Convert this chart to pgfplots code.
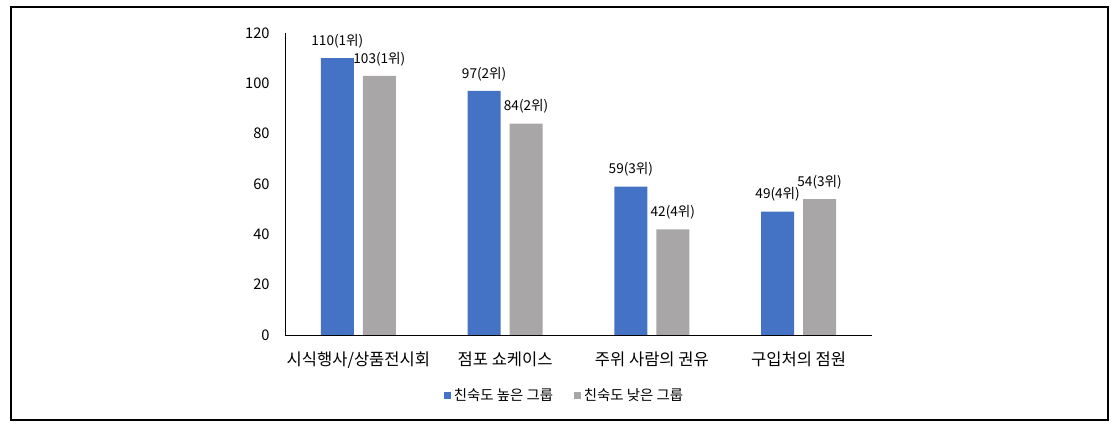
\documentclass[border=0pt]{standalone}
\usepackage{fontspec}
\setmainfont{Noto Sans CJK KR}
\usepackage{pgfplots}
\pgfplotsset{compat=1.18}
\definecolor{cblue}{HTML}{4472C4}
\definecolor{cgray}{HTML}{A8A6A6}
\begin{document}
\begin{tikzpicture}[x=0.75pt,y=0.75pt]
\useasboundingbox (0,0) rectangle (1114,424);
\draw[line width=0.8pt] (11,4) rectangle (1108,417);
\begin{axis}[
  at={(213.75pt,66.75pt)}, anchor=south west,
  width=440.25pt, height=226.5pt, scale only axis,
  xmin=-0.5, xmax=3.5, ymin=0, ymax=120,
  ytick={0,20,...,120},
  xtick={0,1,2,3},
  xticklabels={시식행사/상품전시회, 점포 쇼케이스, 주위 사람의 권유, 구입처의 점원},
  axis x line*=bottom, axis y line*=left,
  axis line style={line width=0.7pt, -},
  major tick length=0pt,
  /pgf/number format/assume math mode=true,
  yticklabel style={font=\fontsize{11}{13}\selectfont, xshift=-8pt},
  xticklabel style={font=\fontsize{12.4}{14}\selectfont, yshift=-9pt},
  ybar, bar width=0.224,
  nodes near coords, point meta=explicit symbolic,
  nodes near coords style={font=\fontsize{10.2}{12}\selectfont, text=black, yshift=4pt},
  legend style={at={(0.477,-0.199)}, anchor=center, draw=none, legend columns=2,
    font=\fontsize{10.8}{12}\selectfont,
    /tikz/every even column/.append style={column sep=14pt}},
  legend image code/.code={\fill[#1] (0pt,-2.6pt) rectangle (5.2pt,2.6pt);},
]
\addplot[fill=cblue, draw=none, bar shift=-0.143] coordinates {
 (0,110) [110(1위)]
 (1,97) [97(2위)]
 (2,59) [59(3위)]
 (3,49) [49(4위)]
};
\addplot[fill=cgray, draw=none, bar shift=0.143] coordinates {
 (0,103) [103(1위)]
 (1,84) [84(2위)]
 (2,42) [42(4위)]
 (3,54) [54(3위)]
};
\legend{친숙도 높은 그룹, 친숙도 낮은 그룹}
\end{axis}
\end{tikzpicture}
\end{document}
